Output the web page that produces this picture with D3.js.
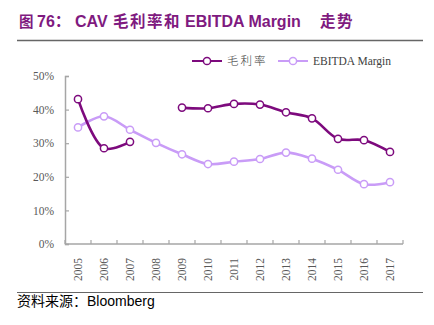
<!DOCTYPE html>
<html>
<head>
<meta charset="utf-8">
<script src="https://cdn.jsdelivr.net/npm/d3@7/dist/d3.min.js"></script>
<style>
  html, body { margin: 0; padding: 0; background: #fff; }
  svg { display: block; }
</style>
</head>
<body>
<svg id="chart" width="434" height="325"></svg>
<script>
// Years on the category axis
const years = ["2005","2006","2007","2008","2009","2010","2011","2012","2013","2014","2015","2016","2017"];
// Gross margin (%), no value reported for 2008
const grossMargin = [43.1, 28.5, 30.4, null, 40.6, 40.4, 41.7, 41.5, 39.2, 37.4, 31.3, 30.9, 27.4];
// EBITDA margin (%)
const ebitdaMargin = [34.7, 38.0, 34.0, 30.1, 26.7, 23.8, 24.5, 25.3, 27.2, 25.4, 22.1, 17.8, 18.4];
// Value axis ticks (%)
const yTicks = [0, 10, 20, 30, 40, 50];
const seriesNames = ["毛利率", "EBITDA Margin"];

const darkPurple = "#7d0a7d";
const lightPurple = "#c99cf7";

const svg = d3.select("#chart");
const plotLeft = 65, plotRight = 403, plotTop = 76, plotBottom = 244;

const x = d3.scaleBand().domain(years).range([plotLeft, plotRight]);
const y = d3.scaleLinear().domain([0, 50]).range([plotBottom, plotTop]);

// Title: CJK and Latin runs placed separately so their spacing can differ
const sansFont = "Liberation Sans, Arial, 'Noto Sans CJK SC', sans-serif";
const cjkFont = "'Noto Sans CJK SC', sans-serif";
const titleRuns = [
  { t: "图", x: 19, f: cjkFont, ls: 0, fs: 14.5 },
  { t: "76：", x: 37, f: sansFont, ls: 0, fs: 16 },
  { t: "CAV", x: 75, f: sansFont, ls: 0, fs: 16 },
  { t: "毛利率和", x: 113, f: cjkFont, ls: 1.5, fs: 15.5 },
  { t: "EBITDA Margin", x: 185, f: sansFont, ls: 0, fs: 16 },
  { t: "走势", x: 320, f: cjkFont, ls: 1.5, fs: 15.5 }
];
const title = svg.append("text").attr("y", 27)
  .attr("fill", "#7f1a80").attr("font-weight", "bold");
titleRuns.forEach(r => {
  title.append("tspan").attr("x", r.x).attr("font-family", r.f)
    .attr("font-size", r.fs).attr("letter-spacing", r.ls).text(r.t);
});

// Rules above and below the chart area
svg.append("line").attr("x1", 17).attr("x2", 423).attr("y1", 40.5).attr("y2", 40.5)
  .attr("stroke", "#666").attr("stroke-width", 1.5);
svg.append("line").attr("x1", 17).attr("x2", 423).attr("y1", 292.5).attr("y2", 292.5)
  .attr("stroke", "#666").attr("stroke-width", 1.2);

const axisColor = "#a6a6a6";
const labelFont = "Liberation Serif, 'Times New Roman', serif";

// Y axis: ticks point inward
const yAxis = svg.append("g").attr("transform", `translate(${plotLeft},0)`)
  .call(d3.axisRight(y).tickValues(yTicks).tickSize(4).tickFormat(d => d + "%"));
yAxis.select(".domain").attr("stroke", axisColor).attr("stroke-width", 1.5);
yAxis.selectAll(".tick line").attr("stroke", axisColor).attr("stroke-width", 1.2);
yAxis.selectAll(".tick text")
  .attr("x", -11).attr("text-anchor", "end")
  .attr("fill", "#595959").attr("font-family", labelFont).attr("font-size", 11.5);

// X axis: ticks at band edges, pointing up
const xAxis = svg.append("g").attr("transform", `translate(0,${plotBottom})`);
xAxis.append("line").attr("x1", plotLeft).attr("x2", plotRight).attr("y1", 0).attr("y2", 0)
  .attr("stroke", axisColor).attr("stroke-width", 1.5);
const edges = years.map(d => x(d)).concat([x(years[years.length - 1]) + x.bandwidth()]);
xAxis.selectAll("line.tk").data(edges).join("line").attr("class", "tk")
  .attr("x1", d => d).attr("x2", d => d).attr("y1", 0).attr("y2", -4)
  .attr("stroke", axisColor).attr("stroke-width", 1.2);
xAxis.selectAll("text").data(years).join("text")
  .attr("transform", d => `translate(${x(d) + x.bandwidth() / 2 + 4},14) rotate(-90)`)
  .attr("text-anchor", "end")
  .attr("fill", "#595959").attr("font-family", labelFont).attr("font-size", 11.5)
  .text(d => d);

const cx = d => x(d) + x.bandwidth() / 2;

function drawSeries(values, color) {
  const pts = years.map((yr, i) => ({ yr, v: values[i] }));
  const line = d3.line()
    .defined(d => d.v !== null)
    .x(d => cx(d.yr)).y(d => y(d.v))
    .curve(d3.curveCatmullRom.alpha(0.5));
  svg.append("path").datum(pts)
    .attr("d", line).attr("fill", "none")
    .attr("stroke", color).attr("stroke-width", 2.6);
  svg.append("g").selectAll("circle").data(pts.filter(d => d.v !== null)).join("circle")
    .attr("cx", d => cx(d.yr)).attr("cy", d => y(d.v)).attr("r", 3.6)
    .attr("fill", "#fff").attr("stroke", color).attr("stroke-width", 1.5);
}

drawSeries(ebitdaMargin, lightPurple);
drawSeries(grossMargin, darkPurple);

// Legend
const legend = [
  { name: seriesNames[0], color: darkPurple, x0: 192, font: cjkFont, ls: 2 },
  { name: seriesNames[1], color: lightPurple, x0: 278, font: labelFont, ls: 0 }
];
const ly = 61;
legend.forEach(l => {
  svg.append("line").attr("x1", l.x0).attr("x2", l.x0 + 30).attr("y1", ly).attr("y2", ly)
    .attr("stroke", l.color).attr("stroke-width", 2);
  svg.append("circle").attr("cx", l.x0 + 15).attr("cy", ly).attr("r", 3.6)
    .attr("fill", "#fff").attr("stroke", l.color).attr("stroke-width", 1.5);
  svg.append("text").attr("x", l.x0 + 35).attr("y", ly + 4)
    .attr("fill", "#404040").attr("font-family", l.font).attr("font-size", 11.5)
    .attr("font-weight", 300).attr("letter-spacing", l.ls)
    .text(l.name);
});

// Source note
svg.append("text").attr("x", 17).attr("y", 306)
  .attr("fill", "#000")
  .attr("font-family", sansFont)
  .attr("font-size", 14)
  .text("资料来源：Bloomberg");
</script>
</body>
</html>
